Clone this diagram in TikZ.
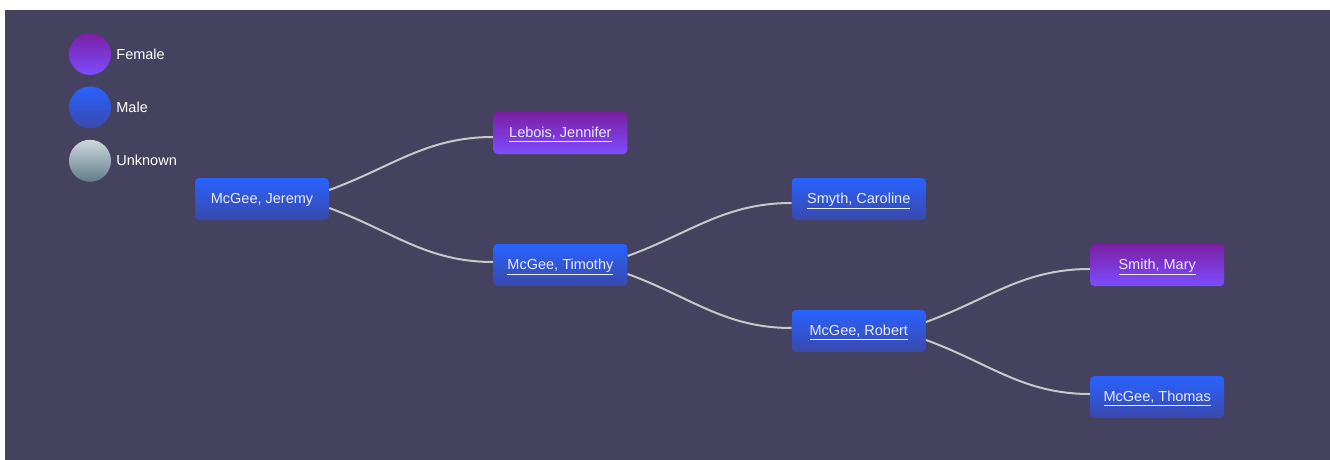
\documentclass[tikz,border=0pt]{standalone}
\usepackage{fontspec}
\setmainfont{Liberation Sans}
\usetikzlibrary{positioning}
\definecolor{pagebg}{HTML}{44425E}
\definecolor{maletop}{HTML}{2962FF}
\definecolor{malebot}{HTML}{3949AB}
\definecolor{femaletop}{HTML}{7B1FA2}
\definecolor{femalebot}{HTML}{7C4DFF}
\definecolor{unknowntop}{HTML}{CFD8DC}
\definecolor{unknownbot}{HTML}{607D8B}
\definecolor{nametext}{HTML}{E8EAFF}
\definecolor{linkgrey}{HTML}{C8C8CC}
\tikzset{
  treebox/.style={rounded corners=4pt, align=center, text=nametext,
    font=\fontsize{14.5}{17}\selectfont, minimum width=134pt,
    minimum height=42pt, inner sep=0pt, text height=11pt, text depth=2pt},
  malebox/.style={treebox, top color=maletop, bottom color=malebot},
  femalebox/.style={treebox, top color=femaletop, bottom color=femalebot},
  treelink/.style={draw=linkgrey, line width=2pt},
  legenddot/.style={circle, minimum size=42pt, inner sep=0pt},
  legendtext/.style={text=white, font=\fontsize{14.5}{17}\selectfont, inner sep=0pt}
}

\begin{document}
\begin{tikzpicture}[x=1pt, y=1pt, node distance=164pt]
    \useasboundingbox (0,0) rectangle (1330,-460);
    \fill[pagebg] (5,-10) rectangle (1330,-460);
    % legend
    \node[legenddot, top color=femaletop, bottom color=femalebot] (female) at (90,-54) {};
    \node[legendtext, right=5pt of female] (femaletext) {Female};
    \node[legenddot, below=11pt of female, top color=maletop, bottom color=malebot] (male) {};
    \node[legendtext, right=5pt of male] (maletext) {Male};
    \node[legenddot, below=11pt of male, top color=unknowntop, bottom color=unknownbot] (unknown) {};
    \node[legendtext, right=5pt of unknown] (unknowntext) {Unknown};
    % tree
    \node[malebox] (jeremy) at (262,-199) {McGee, Jeremy};
    \node[femalebox, right=of jeremy, yshift=66pt] (jennifer) {\underline{Lebois, Jennifer}};
    \node[malebox, right=of jeremy, yshift=-66pt] (timothy) {\underline{McGee, Timothy}};
    \node[malebox, right=of timothy, yshift=66pt] (caroline) {\underline{Smyth, Caroline}};
    \node[malebox, right=of timothy, yshift=-66pt] (robert) {\underline{McGee, Robert}};
    \node[femalebox, right=of robert, yshift=66pt] (mary) {\underline{Smith, Mary}};
    \node[malebox, right=of robert, yshift=-66pt] (thomas) {\underline{McGee, Thomas}};
    \foreach \parent/\child in {jeremy/jennifer, timothy/caroline, robert/mary}
      \draw[treelink] ([yshift=9pt]\parent.east) to[out=20, in=180] ([yshift=-4pt]\child.west);
    \foreach \parent/\child in {jeremy/timothy, timothy/robert, robert/thomas}
      \draw[treelink] ([yshift=-9pt]\parent.east) to[out=-20, in=180] ([yshift=3pt]\child.west);
  \end{tikzpicture}
\end{document}
